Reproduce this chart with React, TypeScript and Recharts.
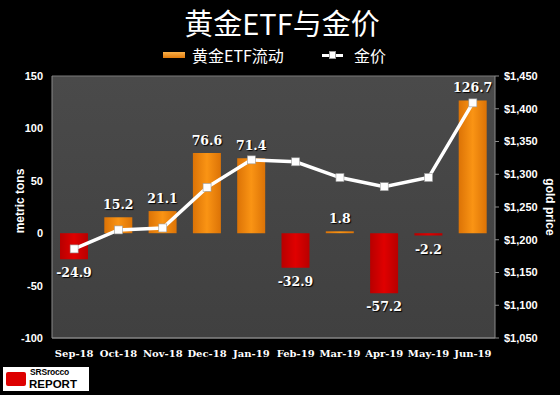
import React from 'react';
import {
  ComposedChart,
  Bar,
  Line,
  XAxis,
  YAxis,
  CartesianGrid,
  Cell,
  LabelList,
} from 'recharts';

const months = ['Sep-18', 'Oct-18', 'Nov-18', 'Dec-18', 'Jan-19', 'Feb-19', 'Mar-19', 'Apr-19', 'May-19', 'Jun-19'];
const etfFlows = [-24.9, 15.2, 21.1, 76.6, 71.4, -32.9, 1.8, -57.2, -2.2, 126.7];
const goldPrices = [1186, 1215, 1218, 1280, 1322, 1319, 1295, 1281, 1295, 1409];
const tonTicks = [-100, -50, 0, 50, 100, 150];
const priceTicks = [1050, 1100, 1150, 1200, 1250, 1300, 1350, 1400, 1450];

const data = months.map((m, i) => ({ month: m, flow: etfFlows[i], price: goldPrices[i] }));

const fmtPrice = (v: number) => {
  const s = String(v);
  return '$' + s.slice(0, s.length - 3) + ',' + s.slice(-3);
};

const BarLabel = (props: any) => {
  const { x, y, width, height, value } = props;
  const top = Math.min(y, y + height);
  const bottom = Math.max(y, y + height);
  const cx = x + width / 2;
  const neg = value < 0;
  return (
    <text
      x={cx}
      y={neg ? bottom + 18 : top - 8}
      textAnchor="middle"
      fill="#fff"
      fontFamily="'DejaVu Serif', serif"
      fontWeight="bold"
      fontSize={12.5}
      style={{ textShadow: '1px 1px 1px #000' }}
    >
      {value}
    </text>
  );
};

const SquareDot = (props: any) => {
  const { cx, cy, index } = props;
  if (cx == null || cy == null) return null;
  return <rect key={`d${index}`} x={cx - 4} y={cy - 4} width={8} height={8} fill="#fff" stroke="#999" strokeWidth={0.6} />;
};

export default function App() {
  return (
    <div style={{ position: 'fixed', left: 0, top: 0, width: 560, height: 395, background: '#000', overflow: 'hidden' }}>
      <div
        style={{
          position: 'absolute', left: 0, top: 4, width: 564, textAlign: 'center', color: '#fff',
          fontFamily: "'Noto Sans CJK SC', sans-serif", fontSize: 29, lineHeight: '36px',
        }}
      >
        黄金ETF与金价
      </div>
      <div
        style={{
          position: 'absolute', left: 0, top: 45, width: 560, height: 22, color: '#fff',
          fontFamily: "'Noto Sans CJK SC', sans-serif", fontSize: 16,
        }}
      >
        <div style={{ position: 'absolute', left: 163, top: 7, width: 22, height: 6, background: 'linear-gradient(#f9b04a, #e07a0a)' }} />
        <div style={{ position: 'absolute', left: 192, top: 0, lineHeight: '20px' }}>黄金ETF流动</div>
        <div style={{ position: 'absolute', left: 322, top: 9, width: 21, height: 3, background: '#fff' }} />
        <div style={{ position: 'absolute', left: 329, top: 6, width: 7, height: 8, background: '#fff', border: '0.5px solid #999', boxSizing: 'border-box' }} />
        <div style={{ position: 'absolute', left: 354, top: 0, lineHeight: '20px' }}>金价</div>
      </div>
      <ComposedChart
        width={560}
        height={395}
        data={data}
        margin={{ top: 76, right: 15, bottom: 27, left: 12 }}
        barCategoryGap={0}
      >
        <defs>
          <linearGradient id="orangeBar" x1="0" y1="0" x2="1" y2="0">
            <stop offset="0%" stopColor="#dc7306" />
            <stop offset="50%" stopColor="#fa9414" />
            <stop offset="100%" stopColor="#dc7306" />
          </linearGradient>
          <linearGradient id="redBar" x1="0" y1="0" x2="1" y2="0">
            <stop offset="0%" stopColor="#b80000" />
            <stop offset="50%" stopColor="#e00000" />
            <stop offset="100%" stopColor="#b80000" />
          </linearGradient>
          <linearGradient id="plotBg" x1="0" y1="0" x2="0" y2="1">
            <stop offset="0%" stopColor="#4a4a4a" />
            <stop offset="100%" stopColor="#404040" />
          </linearGradient>
        </defs>
        <CartesianGrid vertical={false} stroke="#7a7a7a" fill="url(#plotBg)" fillOpacity={1} />
        <XAxis
          dataKey="month"
          height={30}
          tickLine={false}
          axisLine={{ stroke: '#8a8a8a' }}
          tickMargin={6}
          tick={{ fill: '#fff', fontSize: 10, fontWeight: 'bold', fontFamily: "'DejaVu Serif', serif" }}
          interval={0}
        />
        <YAxis
          yAxisId="left"
          width={40}
          domain={[-100, 150]}
          ticks={tonTicks}
          tickLine={false}
          axisLine={{ stroke: '#8a8a8a' }}
          tickMargin={3}
          tick={{ fill: '#fff', fontSize: 11, fontWeight: 'bold', fontFamily: "'Liberation Sans', sans-serif" }}
          label={{
            value: 'metric tons', angle: -90, position: 'insideLeft', dx: 3, dy: -6,
            style: { fill: '#fff', fontSize: 12, fontWeight: 'bold', fontFamily: "'Liberation Sans', sans-serif", textAnchor: 'middle' },
          }}
        />
        <YAxis
          yAxisId="right"
          orientation="right"
          width={50}
          domain={[1050, 1450]}
          ticks={priceTicks}
          tickSize={4}
          tickMargin={5}
          tickLine={{ stroke: '#8a8a8a' }}
          axisLine={{ stroke: '#8a8a8a' }}
          tickFormatter={fmtPrice}
          tick={{ fill: '#fff', fontSize: 11, fontWeight: 'bold', fontFamily: "'Liberation Sans', sans-serif" }}
          label={{
            value: 'gold price', angle: 90, position: 'insideRight', dx: 10, dy: 0,
            style: { fill: '#fff', fontSize: 12, fontWeight: 'bold', fontFamily: "'Liberation Sans', sans-serif", textAnchor: 'middle' },
          }}
        />
        <Bar yAxisId="left" dataKey="flow" barSize={28} isAnimationActive={false}>
          {etfFlows.map((v, i) => (
            <Cell key={`c${i}`} fill={v < 0 ? 'url(#redBar)' : 'url(#orangeBar)'} />
          ))}
          <LabelList dataKey="flow" content={BarLabel} />
        </Bar>
        <Line
          yAxisId="right"
          dataKey="price"
          stroke="#fff"
          strokeWidth={3.5}
          dot={SquareDot}
          activeDot={false}
          isAnimationActive={false}
        />
      </ComposedChart>
      <div style={{ position: 'absolute', left: 3, top: 367, width: 86, height: 24, background: '#fff' }}>
        <div style={{ position: 'absolute', left: 3, top: 5, width: 20, height: 14, background: '#d00', borderRadius: 2 }} />
        <div style={{ position: 'absolute', left: 27, top: 1, fontSize: 8.5, lineHeight: '9px', color: '#000', fontFamily: "'Liberation Sans', sans-serif", fontWeight: 'bold', letterSpacing: -0.2 }}>SRSrocco</div>
        <div style={{ position: 'absolute', left: 26, top: 11.5, fontSize: 11.5, lineHeight: '11px', color: '#000', fontFamily: "'Liberation Sans', sans-serif", fontWeight: 900 }}>REPORT</div>
      </div>
    </div>
  );
}
